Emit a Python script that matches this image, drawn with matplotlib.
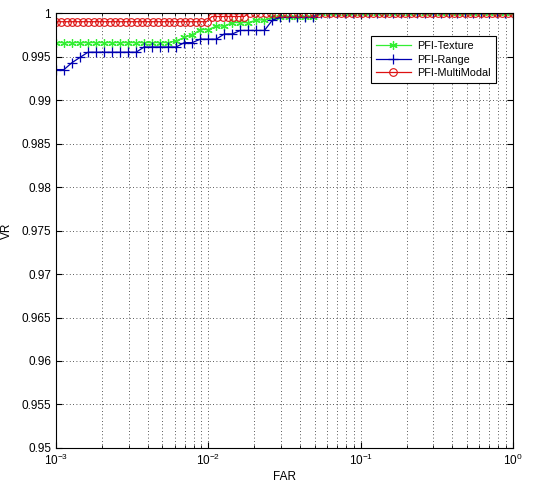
import numpy as np
import matplotlib
matplotlib.use("Agg")
import matplotlib.pyplot as plt
from matplotlib.ticker import FuncFormatter, LogLocator

plt.rcParams["font.family"] = ["Liberation Sans", "DejaVu Sans"]

# ROC step levels: FAR where each level starts, VR level
texture_far = [1e-3, 0.0060, 0.0065, 0.0076, 0.0088, 0.0110, 0.0138, 0.0187, 0.0253, 0.0342, 0.05]
texture_vr = [0.9966, 0.9968, 0.9972, 0.9975, 0.9981, 0.9985, 0.9989, 0.9992, 0.9995, 0.9996, 1.0]

range_far = [1e-3, 0.00123, 0.00137, 0.0016, 0.0034, 0.0062, 0.0088, 0.0125, 0.015, 0.025, 0.028, 0.05]
range_vr = [0.9935, 0.9943, 0.9949, 0.9955, 0.9961, 0.9966, 0.9970, 0.9976, 0.9980, 0.9992, 0.9995, 1.0]

multi_far = [1e-3, 0.0098, 0.018]
multi_vr = [0.9990, 0.9996, 1.0]

# FAR thresholds at which each ROC was evaluated (markers)
far_grid_tr = np.geomspace(1e-3, 1, 58)
far_grid_mm = np.geomspace(1e-3, 1, 86)


def roc_at(grid, far, vr):
    idx = np.searchsorted(far, grid, side="right") - 1
    return np.asarray(vr)[np.clip(idx, 0, len(vr) - 1)]


fig = plt.figure(figsize=(5.52, 4.83), dpi=100)
ax = fig.add_axes([0.1014, 0.0725, 0.828, 0.9005])

ax.plot(far_grid_tr, roc_at(far_grid_tr, texture_far, texture_vr), color="#33ee33",
        marker=(6, 2, 0), ms=6, mew=0.9, lw=0.9, label="PFI-Texture")
ax.plot(far_grid_tr, roc_at(far_grid_tr, range_far, range_vr), color="#0000b0",
        marker="+", ms=7, mew=0.9, lw=0.9, label="PFI-Range")
ax.plot(far_grid_mm, roc_at(far_grid_mm, multi_far, multi_vr), color="#dd1111",
        marker="o", ms=5.5, mfc="none", mew=0.8, lw=0.9, label="PFI-MultiModal")

ax.set_xscale("log")
ax.set_xlim(1e-3, 1)
ax.set_ylim(0.95, 1.0)
ax.set_yticks(np.arange(0.95, 1.0001, 0.005))
ax.yaxis.set_major_formatter(FuncFormatter(lambda v, p: f"{v:.3f}".rstrip("0").rstrip(".")))
ax.xaxis.set_minor_locator(LogLocator(base=10, subs=np.arange(2, 10)))

ax.grid(True, which="major", linestyle=(0, (1, 3)), color="#222222", lw=0.6)
ax.grid(True, which="minor", axis="x", linestyle=(0, (1, 3)), color="#222222", lw=0.6)

ax.tick_params(which="both", direction="in", top=True, right=True, labelsize=8.5)
ax.tick_params(which="major", length=4)
ax.tick_params(which="minor", length=2)
for s in ax.spines.values():
    s.set_linewidth(0.8)

ax.set_xlabel("FAR", fontsize=8.5, labelpad=2)
ax.set_ylabel("VR", fontsize=8.5, labelpad=6)

leg = ax.legend(loc="upper right", bbox_to_anchor=(0.975, 0.96), fontsize=7.8,
                fancybox=False, edgecolor="black", framealpha=1, handlelength=3.2,
                borderpad=0.5, labelspacing=0.3, handletextpad=0.6)
leg.get_frame().set_linewidth(0.8)

fig.savefig("out.png", dpi=100)
